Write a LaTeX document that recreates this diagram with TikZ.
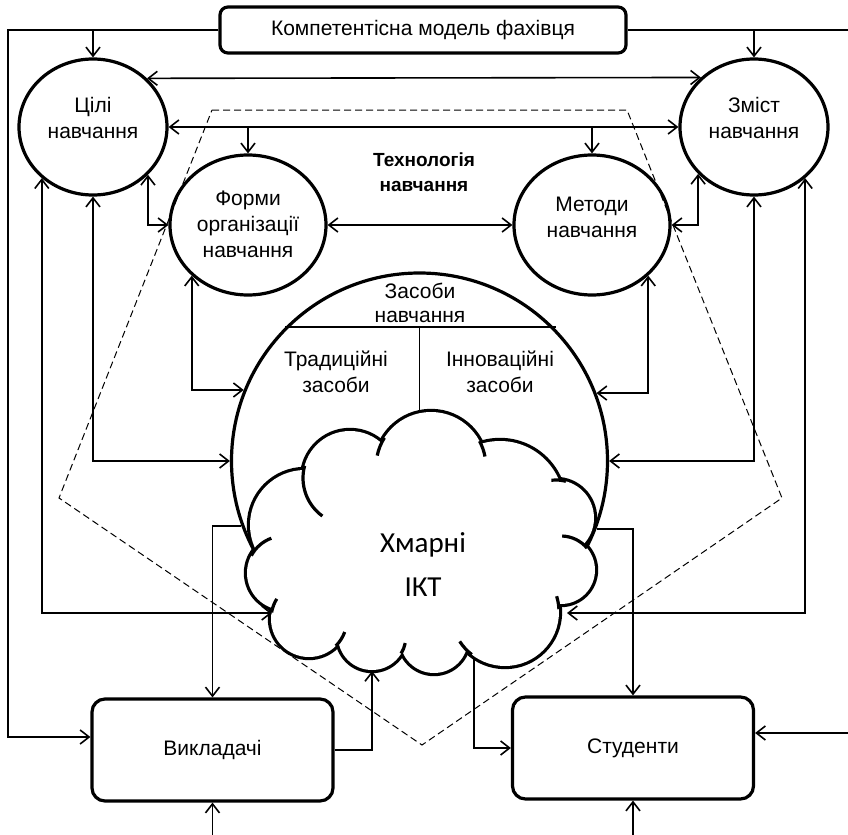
\documentclass[tikz,border=0pt]{standalone}
\usepackage{fontspec}
\setmainfont{Liberation Sans}
\newfontfamily\cloudfont{Carlito}
\usetikzlibrary{arrows.meta,shapes.geometric}

% puffs of the cloud: centre x / centre y / radius
\newcommand\puffs{305/525/55,350/478/47,431/467/55,500/505/64,556/518/38,561/570/34,
	505/612/54,434/639/34,372/636/34,309/619/38,284/573/37}

\begin{document}
\begin{tikzpicture}[x=0.5pt,y=-0.5pt,>={Straight Barb[length=4.5pt,width=7pt]},
		font=\fontsize{10.5}{13}\selectfont,align=center,
		conn/.style={line width=0.8pt},
		goal/.style={ellipse,draw,line width=1.6pt,inner sep=0pt,minimum width=74pt,minimum height=68pt},
		tech/.style={ellipse,draw,line width=1.6pt,inner sep=0pt,minimum width=78pt,minimum height=70pt},
		actor/.style={draw,line width=1.6pt,rounded corners=6.5pt,minimum width=120.5pt,minimum height=51pt},
		frame/.style={line width=0.5pt,dash pattern=on 3.5pt off 2pt}]
	\clip (0,0) rectangle (848,835);
	% technology frame
	\draw[frame] (212,110) -- (627,110) -- (782,498) -- (422,745) -- (59,498) -- cycle;
	% means of teaching
	\node[circle,draw,line width=1.6pt,inner sep=0pt,minimum size=188pt] (zasoby) at (419.5,461) {};
	\draw[line width=0.7pt] (zasoby.135.4) -- (zasoby.135.4 -| zasoby.44.6);
	\draw[line width=0.7pt] (zasoby.north |- zasoby.135.4) -- (zasoby.center);
	\node[font=\fontsize{10.5}{12}\selectfont] (zasoby_t) at (420,303) {Засоби\\навчання};
	\node (trad) at (336,372) {Традиційні\\засоби};
	\node (innov) at (500,372) {Інноваційні\\засоби};
	% cloud
	\foreach \px/\py/\pr in \puffs
		\draw[line width=3.2pt] (\px,\py) circle[radius=\pr];
	\fill[white] (305,525) -- (350,478) -- (431,467) -- (500,505) -- (556,518) -- (561,570)
		-- (505,612) -- (434,639) -- (372,636) -- (309,619) -- (284,573) -- cycle;
	\foreach \px/\py/\pr in \puffs
		\fill[white] (\px,\py) circle[radius=\pr];
	\foreach \px/\py/\pr/\sa/\ea in {350/478/47/195/126,431/467/55/212/192,431/467/55/-28/-11,
			556/518/38/-75/-97,561/570/34/-40/-88,505/612/54/-3/-17,505/612/54/128/147,
			372/636/34/31/12,309/619/38/45/20,309/619/38/190/212,284/573/37/208/250}
		\draw[line width=1.6pt] (\px,\py) ++(\sa:\pr) arc[start angle=\sa,end angle=\ea,radius=\pr];
	\node[font=\cloudfont\fontsize{14.5}{22}\selectfont] (ict) at (423,565) {Хмарні\\ІКТ};
	% goals, content, forms, methods, actors
	\node[draw,line width=1.6pt,rounded corners=4pt,minimum width=203pt,minimum height=23pt] (model) at (423,30) {Компетентісна модель фахівця};
	\node[goal] (cili) at (93,127) {};
	\node[goal] (zmist) at (754,127) {};
	\node[tech] (formy) at (248,225) {};
	\node[tech] (metody) at (592,225) {};
	\node[actor] (vykl) at (212.5,750) {Викладачі};
	\node[actor] (stud) at (633,748) {Студенти};
	\node (cili_t) at (93,118) {Цілі\\навчання};
	\node (zmist_t) at (754,118) {Зміст\\навчання};
	\node (formy_t) at (248,224) {Форми\\організації\\навчання};
	\node (metody_t) at (592,217) {Методи\\навчання};
	\node[font=\bfseries\fontsize{9.5}{12.5}\selectfont] (tech_t) at (424,172) {Технологія\\навчання};
	\coordinate (lft) at (8,737);
	\coordinate (rgt) at (852,733);
	\coordinate (bot) at (0,840);
	\coordinate (ict_w) at (272,613);
	\coordinate (ict_e) at (567,613);
	\coordinate (ict_sw) at (372,671);
	\coordinate (ict_se) at (474,658);
	% connectors
	\draw[conn,->] (model.west) -| (cili.north);
	\draw[conn,->] (model.east) -| (zmist.north);
	\draw[conn,->] (model.west) -| (lft) -- (lft -| vykl.west);
	\draw[conn,->] (model.east) -| (rgt) -- (rgt -| stud.east);
	\draw[conn,<->] (cili.42.5) -- (zmist.137.5);
	\draw[conn,<->] (cili.east) -- (zmist.west);
	\draw[conn,->] (cili.east -| formy.north) -- (formy.north);
	\draw[conn,->] (cili.east -| metody.north) -- (metody.north);
	\draw[conn,<->] (formy.east) -- (metody.west);
	\draw[conn,<->] (cili.319.3) |- (formy.west);
	\draw[conn,<->] (zmist.220.7) |- (metody.east);
	\draw[conn,<->] (formy.222) |- (zasoby.158.8);
	\draw[conn,<->] (metody.318) |- (zasoby.21.2);
	\draw[conn,<->] (cili.south) |- (zasoby.west);
	\draw[conn,<->] (zmist.south) |- (zasoby.east);
	\draw[conn,<->] (cili.225) |- (ict_w);
	\draw[conn,<->] (zmist.315) |- (ict_e);
	\draw[conn,->] (zasoby.200.5) -| (vykl.north);
	\draw[conn,->] (zasoby.339.5) -| (stud.north);
	\draw[conn,->] (vykl.east) -| (ict_sw);
	\draw[conn,->] (ict_se) |- (stud.west);
	\draw[conn,<-] (vykl.south) -- (vykl.south |- bot);
	\draw[conn,<-] (stud.south) -- (stud.south |- bot);
\end{tikzpicture}
\end{document}
